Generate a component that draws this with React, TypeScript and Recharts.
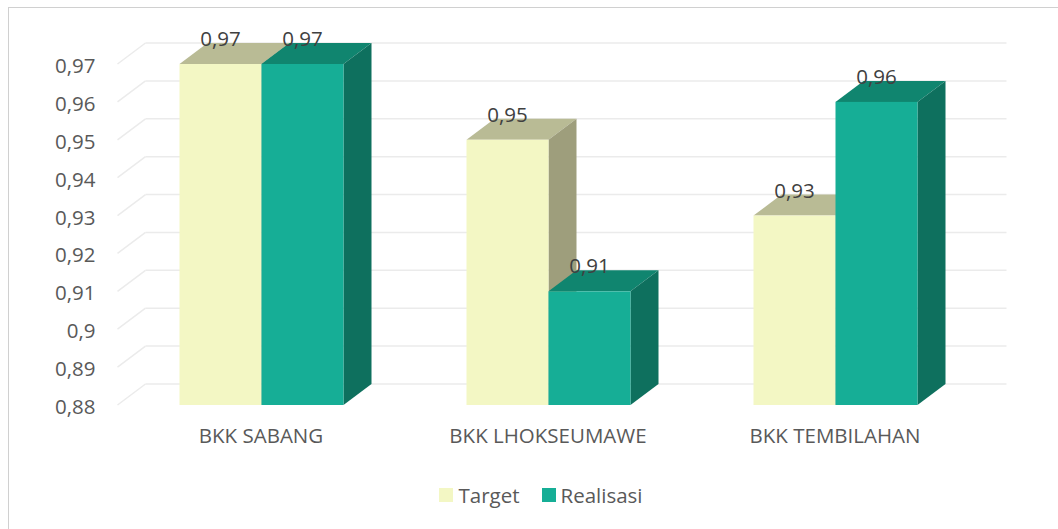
import React from 'react';
import { BarChart, Bar, XAxis, YAxis, CartesianGrid, Legend, LabelList } from 'recharts';

const categories = ['BKK SABANG', 'BKK LHOKSEUMAWE', 'BKK TEMBILAHAN'];
const targetValues = [0.97, 0.95, 0.93];
const realisasiValues = [0.97, 0.91, 0.96];
const yTicks = [0.88, 0.89, 0.9, 0.91, 0.92, 0.93, 0.94, 0.95, 0.96, 0.97];

const data = categories.map((name, i) => ({
  name,
  target: targetValues[i],
  realisasi: realisasiValues[i],
}));

// depth of the fake 3D
const DX = 28;
const DY = 21;
const FONT = '"Open Sans", sans-serif';
const GRID = '#ebebeb';

const fmt = (v: number) => String(v).replace('.', ',');

const box3d = (front: string, top: string, side: string) => (props: any) => {
  const { x, y, width, height } = props;
  const r = x + width;
  const b = y + height;
  return (
    <g>
      <polygon points={`${x},${y} ${r},${y} ${r + DX},${y - DY} ${x + DX},${y - DY}`} fill={top} />
      <polygon points={`${r},${y} ${r + DX},${y - DY} ${r + DX},${b - DY} ${r},${b}`} fill={side} />
      <rect x={x} y={y} width={width} height={height} fill={front} />
    </g>
  );
};

const gridLine = (props: any) => {
  const { x1, x2, y1, index } = props;
  return (
    <g key={`gl-${index}`}>
      <line x1={x1} y1={y1} x2={x1 + DX} y2={y1 - DY} stroke={GRID} strokeWidth={1.5} />
      <line x1={x1 + DX} y1={y1 - DY} x2={x2 + DX} y2={y1 - DY} stroke={GRID} strokeWidth={1.5} />
    </g>
  );
};

const YTick = ({ x, y, payload }: any) => (
  <text x={x} y={y + 1} textAnchor="end" dominantBaseline="central" fill="#595959" fontSize={20.5} fontFamily={FONT}>
    {fmt(payload.value)}
  </text>
);

const XTick = ({ x, y, payload }: any) => (
  <text x={x} y={y + 30} textAnchor="middle" dominantBaseline="central" fill="#595959" fontSize={20.5} fontFamily={FONT}>
    {payload.value}
  </text>
);

const TopLabel = ({ x, y, width, value }: any) => (
  <text x={x + width / 2} y={y - DY + 3} textAnchor="middle" fill="#404040" fontSize={20.5} fontFamily={FONT}>
    {fmt(value)}
  </text>
);

const legendItems = [
  { name: 'Target', color: '#f3f7c4' },
  { name: 'Realisasi', color: '#16ae96' },
];

const LegendContent = () => (
  <div
    style={{
      display: 'flex',
      justifyContent: 'center',
      alignItems: 'center',
      height: 30,
      paddingLeft: 15,
      fontFamily: FONT,
      fontSize: 20.5,
      color: '#595959',
    }}
  >
    {legendItems.map((it, i) => (
      <div key={it.name} style={{ display: 'flex', alignItems: 'center', marginLeft: i ? 22 : 0 }}>
        <span style={{ width: 14, height: 14, background: it.color, marginRight: 5, display: 'inline-block' }} />
        <span>{it.name}</span>
      </div>
    ))}
  </div>
);

export default function App() {
  return (
    <div
      style={{
        position: 'absolute',
        left: 8,
        top: 7,
        width: 1049,
        height: 521,
        borderTop: '1px solid #d0d0d0',
        borderLeft: '1px solid #d0d0d0',
        background: '#fff',
      }}
    >
      <BarChart
        width={1049}
        height={521}
        data={data}
        margin={{ top: 56, right: 79.5, bottom: 19, left: 8 }}
        barSize={82}
        barGap={0}
      >
        <CartesianGrid vertical={false} horizontal={gridLine} />
        <XAxis dataKey="name" axisLine={false} tickLine={false} tickSize={0} tickMargin={0} height={75} tick={<XTick />} />
        <YAxis
          domain={[0.88, 0.97]}
          ticks={yTicks}
          axisLine={false}
          tickLine={false}
          tickSize={0}
          tickMargin={22}
          width={100.5}
          tick={<YTick />}
        />
        <Legend verticalAlign="bottom" height={30} wrapperStyle={{ left: 0, width: 1049 }} content={<LegendContent />} />
        <Bar dataKey="target" name="Target" fill="#f3f7c4" shape={box3d('#f3f7c4', '#b9bb95', '#9e9e7c')} isAnimationActive={false}>
          <LabelList dataKey="target" content={<TopLabel />} />
        </Bar>
        <Bar dataKey="realisasi" name="Realisasi" fill="#16ae96" shape={box3d('#16ae96', '#10856f', '#0e705e')} isAnimationActive={false}>
          <LabelList dataKey="realisasi" content={<TopLabel />} />
        </Bar>
      </BarChart>
    </div>
  );
}
